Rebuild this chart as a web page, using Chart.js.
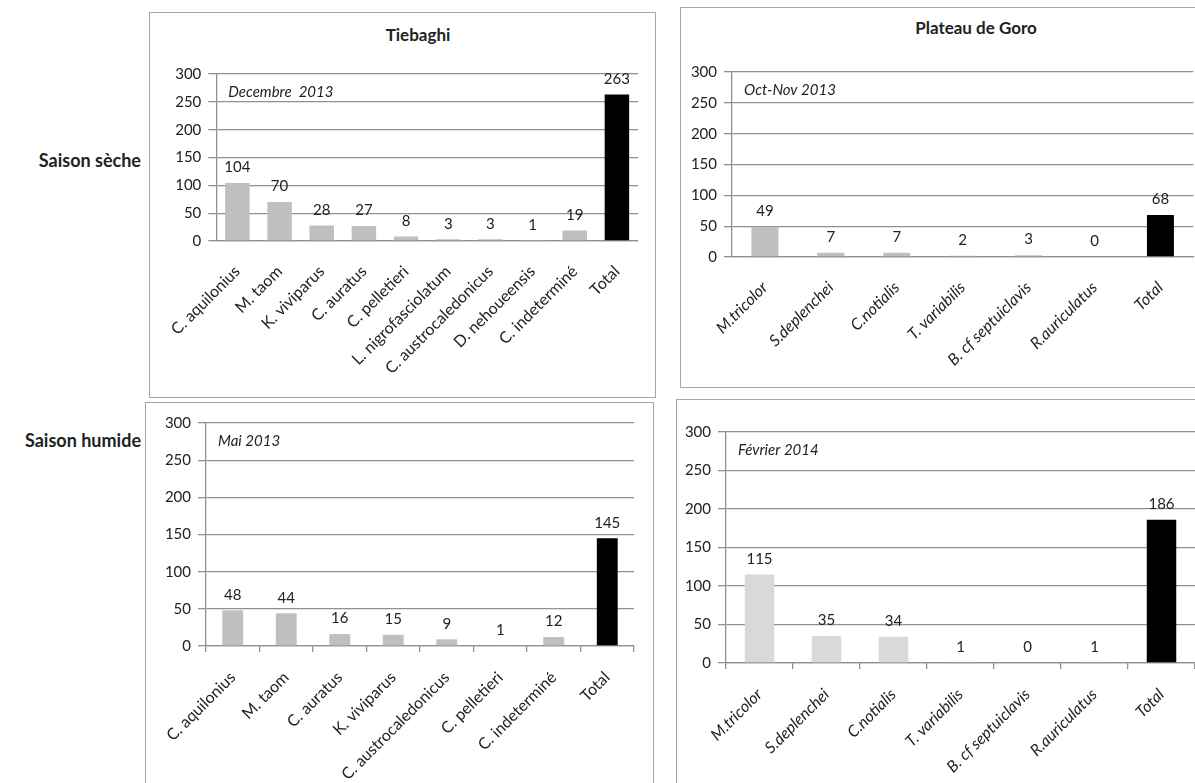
<!DOCTYPE html>
<html>
<head>
<meta charset="UTF-8">
<title>Tiebaghi / Plateau de Goro</title>
<script src="https://cdn.jsdelivr.net/npm/chart.js@4.4.0/dist/chart.umd.min.js"></script>
<style>
	body {margin:0; background:#fff; width:1195px; height:783px; overflow:hidden; position:relative; font-family:Lato, sans-serif; color:#222;}
	.box {position:absolute; border:1.5px solid #a6a6a6; box-sizing:border-box;}
	.cv {position:absolute;}
	.title {position:absolute; font-weight:bold; font-size:17px; transform:translate(-50%,-50%); white-space:nowrap;}
	.season {position:absolute; font-weight:bold; font-size:18px; text-align:right; width:141px; transform:translateY(-50%); white-space:nowrap;}
</style>
</head>
<body>
	<div class="season" style="left:0; top:160px;">Saison sèche</div>
	<div class="season" style="left:0; top:440px;">Saison humide</div>

	<div class="box" style="left:149px; top:12px; width:507px; height:386px;"></div>
	<div class="box" style="left:680px; top:7px; width:530px; height:381px;"></div>
	<div class="box" style="left:145px; top:402px; width:509px; height:400px;"></div>
	<div class="box" style="left:676px; top:399px; width:530px; height:400px;"></div>

	<div class="title" style="left:418px; top:34px;">Tiebaghi</div>
	<div class="title" style="left:976px; top:27px;">Plateau de Goro</div>

	<canvas class="cv" id="c1" style="left:150px; top:14px;" width="504" height="383"></canvas>
	<canvas class="cv" id="c2" style="left:682px; top:8px;" width="513" height="378"></canvas>
	<canvas class="cv" id="c3" style="left:147px; top:404px;" width="505" height="379"></canvas>
	<canvas class="cv" id="c4" style="left:678px; top:400px;" width="517" height="383"></canvas>

<script>
	// --- data ---
	const tiebaghiSecLabels = ['C. aquilonius','M. taom','K. viviparus','C. auratus','C. pelletieri','L. nigrofasciolatum','C. austrocaledonicus','D. nehoueensis','C. indeterminé','Total'];
	const tiebaghiSecValues = [104, 70, 28, 27, 8, 3, 3, 1, 19, 263];

	const goroSecLabels = ['M.tricolor','S.deplenchei','C.notialis','T. variabilis','B. cf septuiclavis','R.auriculatus','Total'];
	const goroSecValues = [49, 7, 7, 2, 3, 0, 68];

	const tiebaghiHumLabels = ['C. aquilonius','M. taom','C. auratus','K. viviparus','C. austrocaledonicus','C. pelletieri','C. indeterminé','Total'];
	const tiebaghiHumValues = [48, 44, 16, 15, 9, 1, 12, 145];

	const goroHumLabels = ['M.tricolor','S.deplenchei','C.notialis','T. variabilis','B. cf septuiclavis','R.auriculatus','Total'];
	const goroHumValues = [115, 35, 34, 1, 0, 1, 186];

	const yTicks = [0, 50, 100, 150, 200, 250, 300];

	// draws the value on top of each bar + the italic period note
	const labelPlugin = {
		id:'valueLabels',
		afterDatasetsDraw(chart) {
			const ctx = chart.ctx;
			const meta = chart.getDatasetMeta(0);
			const vals = chart.data.datasets[0].data;
			ctx.save();
			ctx.fillStyle = '#222';
			ctx.font = '15px Lato';
			ctx.textAlign = 'center';
			ctx.textBaseline = 'bottom';
			meta.data.forEach(function(bar, i) {
				ctx.fillText(vals[i], bar.x, bar.y - 8);
			});
			const note = chart.options.plugins.valueLabels.note;
			ctx.font = 'italic 15px Lato';
			ctx.textAlign = 'left';
			ctx.textBaseline = 'middle';
			ctx.fillText(note, chart.chartArea.left + 12, chart.chartArea.top + 18);
			ctx.restore();
		}
	};

	// g = plot area inside the canvas {left, top, right, bottom}
	function makeChart(id, labels, values, color, g, opt) {
		const cv = document.getElementById(id);
		const colors = labels.map(function(l){ return l === 'Total' ? '#000' : color; });
		return new Chart(cv, {
			type:'bar',
			data:{
				labels:labels,
				datasets:[{
					data:values,
					backgroundColor:colors,
					borderWidth:0,
					barPercentage:opt.bar,
					categoryPercentage:1
				}]
			},
			options:{
				responsive:false,
				animation:false,
				layout:{padding:{top:g.top, right:cv.width - g.right, left:0, bottom:0}},
				plugins:{
					legend:{display:false},
					tooltip:{enabled:false},
					valueLabels:{note:opt.note}
				},
				scales:{
					x:{
						afterFit:function(s){ s.height = cv.height - g.bottom; },
						grid:{display:opt.xTicks, drawOnChartArea:false, drawTicks:opt.xTicks, tickLength:6, color:'#909090', lineWidth:1.3},
						border:{display:true, color:'#909090', width:1.3},
						ticks:{
							minRotation:45, maxRotation:45, autoSkip:false,
							padding:opt.xTicks ? 16 : 21,
							color:'#222',
							font:{family:'Lato', size:16, style:opt.italic ? 'italic' : 'normal'}
						}
					},
					y:{
						min:0, max:300,
						afterFit:function(s){ s.width = g.left; },
						afterBuildTicks:function(s){ s.ticks = yTicks.map(function(v){ return {value:v}; }); },
						grid:{color:'#909090', lineWidth:1.3, tickLength:8},
						border:{display:true, color:'#909090', width:1.3},
						ticks:{padding:7, color:'#222', font:{family:'Lato', size:15}}
					}
				}
			},
			plugins:[labelPlugin]
		});
	}

	makeChart('c1', tiebaghiSecLabels, tiebaghiSecValues, '#bfbfbf',
		{left:59, top:60, right:488, bottom:227}, {bar:0.58, note:'Decembre  2013', italic:false, xTicks:false});
	makeChart('c2', goroSecLabels, goroSecValues, '#bfbfbf',
		{left:50, top:64, right:513, bottom:249}, {bar:0.41, note:'Oct-Nov 2013', italic:true, xTicks:false});
	makeChart('c3', tiebaghiHumLabels, tiebaghiHumValues, '#bfbfbf',
		{left:59, top:19, right:487, bottom:242}, {bar:0.39, note:'Mai 2013', italic:false, xTicks:true});
	makeChart('c4', goroHumLabels, goroHumValues, '#d9d9d9',
		{left:48, top:32, right:517, bottom:263}, {bar:0.44, note:'Février 2014', italic:true, xTicks:true});
</script>
</body>
</html>
